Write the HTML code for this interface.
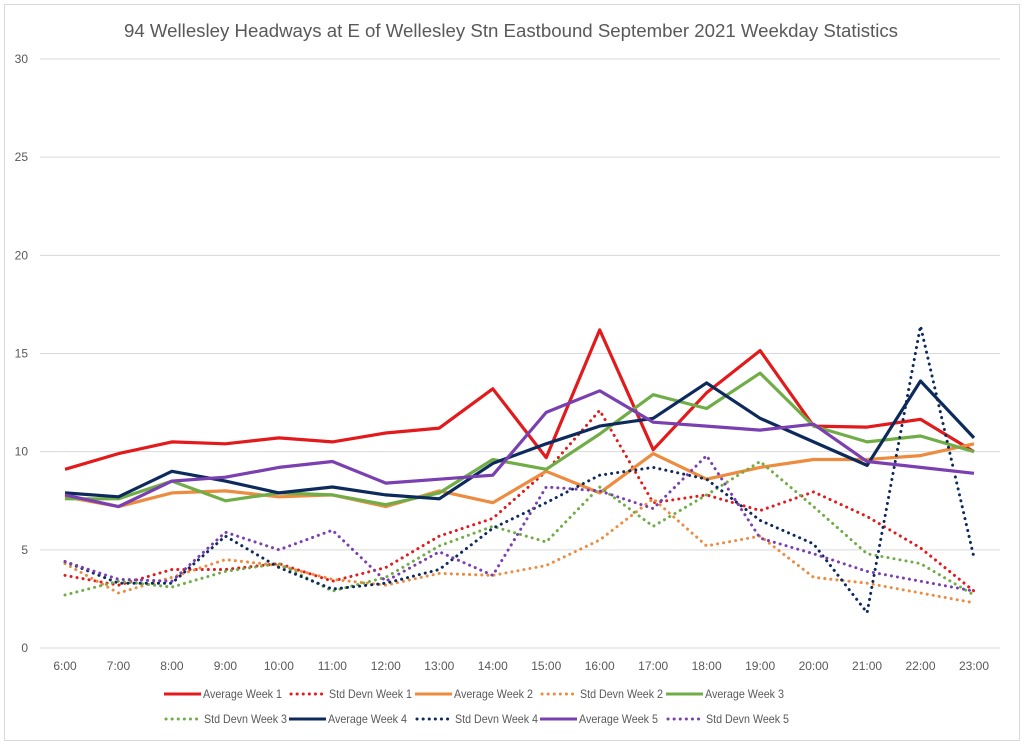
<!DOCTYPE html>
<html><head><meta charset="utf-8"><style>
body{margin:0;background:#fff;font-family:"Liberation Sans",sans-serif;}
#wrap{position:relative;width:1024px;height:746px;}
</style></head><body>
<div id="wrap">
<svg id="chart" width="1024" height="746">
<rect x="4.5" y="4.5" width="1015" height="736" fill="#fff" stroke="#d9d9d9"/>
<text x="124" y="37" textLength="774" lengthAdjust="spacingAndGlyphs" font-size="18" fill="#595959">94 Wellesley Headways at E of Wellesley Stn Eastbound September 2021 Weekday Statistics</text>
<g id="grid"></g><g id="series"></g><g id="legend"></g>
</svg>
</div>
<script>
const categories=["6:00","7:00","8:00","9:00","10:00","11:00","12:00","13:00","14:00","15:00","16:00","17:00","18:00","19:00","20:00","21:00","22:00","23:00"];
const yTicks=[0,5,10,15,20,25,30];
const avgW1=[9.1,9.9,10.5,10.4,10.7,10.5,10.95,11.2,13.2,9.7,16.2,10.1,13.0,15.15,11.3,11.25,11.65,10.0];
const stdW1=[3.7,3.2,4.0,4.0,4.3,3.4,4.1,5.7,6.6,9.0,12.1,7.4,7.8,7.0,7.95,6.7,5.1,2.9];
const avgW2=[7.7,7.2,7.9,8.0,7.7,7.8,7.2,8.0,7.4,9.0,7.9,9.9,8.6,9.2,9.6,9.6,9.8,10.4];
const stdW2=[4.3,2.8,3.6,4.5,4.2,3.5,3.2,3.8,3.7,4.2,5.5,7.6,5.2,5.7,3.6,3.3,2.8,2.3];
const avgW3=[7.6,7.6,8.5,7.5,7.9,7.8,7.3,7.9,9.6,9.1,10.9,12.9,12.2,14.0,11.3,10.5,10.8,10.0];
const stdW3=[2.7,3.4,3.1,3.9,4.3,2.9,3.6,5.2,6.2,5.4,8.2,6.2,7.8,9.5,7.2,4.8,4.3,2.7];
const avgW4=[7.9,7.7,9.0,8.5,7.9,8.2,7.8,7.6,9.4,10.4,11.3,11.7,13.5,11.7,10.5,9.3,13.6,10.7];
const stdW4=[4.4,3.3,3.3,5.7,4.1,3.0,3.3,4.0,6.1,7.4,8.8,9.2,8.6,6.5,5.3,1.8,16.4,4.6];
const avgW5=[7.8,7.2,8.5,8.7,9.2,9.5,8.4,8.6,8.8,12.0,13.1,11.5,11.3,11.1,11.4,9.5,9.2,8.9];
const stdW5=[4.4,3.5,3.4,5.9,5.0,6.0,3.4,4.9,3.7,8.2,8.0,7.1,9.8,5.6,4.8,3.9,3.4,2.9];
const seriesNames=["Average Week 1","Std Devn Week 1","Average Week 2","Std Devn Week 2","Average Week 3","Std Devn Week 3","Average Week 4","Std Devn Week 4","Average Week 5","Std Devn Week 5"];

const NS="http://www.w3.org/2000/svg";
const x0=65,x1=974,y0=648,y1=59,yMax=30;
function xs(i){return x0+i*(x1-x0)/(categories.length-1);}
function ys(v){return y0-v*(y0-y1)/yMax;}
function mk(t,a,p){const e=document.createElementNS(NS,t);for(const k in a)e.setAttribute(k,a[k]);p.appendChild(e);return e;}
const grid=document.getElementById('grid');
yTicks.forEach(t=>{
  const l=mk('line',{x1:40,x2:1000,y1:ys(t),y2:ys(t),stroke:'#d9d9d9','stroke-width':1},grid);
  
  
  const tx=mk('text',{x:28,y:ys(t)+4,'text-anchor':'end','font-size':12,fill:'#595959'},grid);
  tx.textContent=t;
  
  
});
categories.forEach((c,i)=>{
  const tx=mk('text',{x:xs(i),y:670,'text-anchor':'middle','font-size':12,fill:'#595959'},grid);
  tx.textContent=c;
  
  
});
const data=[avgW1,stdW1,avgW2,stdW2,avgW3,stdW3,avgW4,stdW4,avgW5,stdW5];
const cols=['#e31a1c','#e31a1c','#ed8b3f','#ed8b3f','#70ad47','#70ad47','#0d2a5c','#0d2a5c','#7a3fb0','#7a3fb0'];
const sg=document.getElementById('series');
data.forEach((arr,k)=>{
  const dotted=k%2===1;
  const pts=arr.map((v,i)=>xs(i).toFixed(1)+','+ys(v).toFixed(1)).join(' ');
  const a={points:pts,fill:'none',stroke:cols[k],'stroke-width':3.2,'stroke-linejoin':'round'};
  if(dotted){a['stroke-dasharray']='0.1 6';a['stroke-linecap']='round';a['stroke-width']=3;}
  const p=mk('polyline',a,sg);
  
  
});
const lg=document.getElementById('legend');
const lx=[164,289,415,540,666];
seriesNames.forEach((n,k)=>{
  const row=k<5?0:1, col=k%5;
  const y=row?719:694, x=lx[col];
  const dotted=k%2===1;
  const a={x1:x+(dotted?2:0),x2:x+(dotted?34:37),y1:y,y2:y,stroke:cols[k],'stroke-width':3};
  if(dotted){a['stroke-dasharray']='0.1 6';a['stroke-linecap']='round';}
  const ln=mk('line',a,lg);
  
  
  const t=mk('text',{x:x+(dotted?40:39),y:y+4,'font-size':12,fill:'#595959',textLength:dotted?83:79,lengthAdjust:'spacingAndGlyphs'},lg);
  t.textContent=n;
  
  
});
</script>
</body></html>
